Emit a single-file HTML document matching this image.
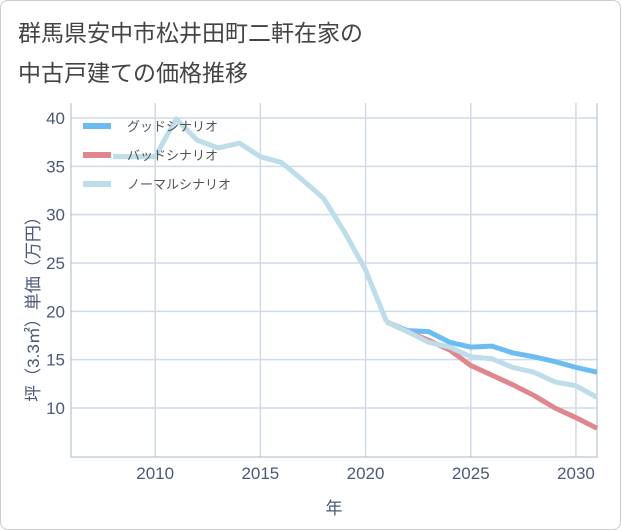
<!DOCTYPE html>
<html><head><meta charset="utf-8"><style>
body{margin:0;background:#fff;}
#wrap{position:relative;width:619px;height:528px;border:1px solid #ccc;border-radius:8px;overflow:hidden;font-family:"Liberation Sans","Noto Sans CJK JP",sans-serif;}
.title{position:absolute;left:17px;font-size:23px;color:#444;}
</style></head><body>
<div id="wrap">
<div class="title" style="top:13px">群馬県安中市松井田町二軒在家の</div>
<div class="title" style="top:53px">中古戸建ての価格推移</div>
<svg id="chart" width="621" height="530" style="position:absolute;left:-1px;top:-1px"></svg>
</div>
<script>
const years=[2008,2009,2010,2011,2012,2013,2014,2015,2016,2017,2018,2019,2020,2021,2022,2023,2024,2025,2026,2027,2028,2029,2030,2031];
const normalHist=[36,36,36,39.9,37.7,36.9,37.4,36,35.4,33.6,31.7,28.2,24.3,18.9];
const futureYears=[2021,2022,2023,2024,2025,2026,2027,2028,2029,2030,2031];
const goodVals=[18.9,18.0,17.9,16.8,16.3,16.4,15.7,15.3,14.8,14.2,13.7];
const badVals=[18.9,17.9,17.0,16.0,14.4,13.4,12.4,11.3,10.0,9.0,7.9];
const normalVals=[18.9,17.9,16.8,16.3,15.3,15.1,14.2,13.7,12.7,12.3,11.1];
const xTicks=[2010,2015,2020,2025,2030];
const yTicks=[10,15,20,25,30,35,40];
const legendLabels=["グッドシナリオ","バッドシナリオ","ノーマルシナリオ"];
const colors=["#6bbcf2","#e0868e","#bcdde9"];
const NS="http://www.w3.org/2000/svg";
const svg=document.getElementById('chart');
const L=71,R=597,T=103,B=457;
const x=v=>L+(v-2006)*(R-L)/25;
const y=v=>408-(v-10)*290/30;
function mk(t,a,p){const e=document.createElementNS(NS,t);for(const k in a)e.setAttribute(k,a[k]);(p||svg).appendChild(e);return e;}
for(const t of xTicks){const l=mk('line',{x1:x(t),x2:x(t),y1:T,y2:B,stroke:'#cfdbe6','stroke-width':1.5});


const tx=mk('text',{x:x(t),y:479,'text-anchor':'middle','font-size':17,fill:'#4a5a78'});tx.textContent=t;

}
for(const t of yTicks){const l=mk('line',{x1:L,x2:R,y1:y(t),y2:y(t),stroke:'#cfdbe6','stroke-width':1.5});


const tx=mk('text',{x:65,y:y(t)+6,'text-anchor':'end','font-size':17,fill:'#4a5a78'});tx.textContent=t;

}
const ax=mk('path',{d:`M${L} ${T}V${B}H${R}V${T}`,fill:'none',stroke:'#aab8c8','stroke-width':1});


function line(xs,vs,c,name){const p=mk('polyline',{points:xs.map((v,i)=>x(v)+','+y(vs[i])).join(' '),fill:'none',stroke:c,'stroke-width':5,'stroke-linejoin':'round'});

}
line(futureYears,goodVals,colors[0],'good-scenario-line');
line(futureYears,badVals,colors[1],'bad-scenario-line');
line(years.slice(0,normalHist.length),normalHist,colors[2],'normal-history-line');
line(futureYears,normalVals,colors[2],'normal-scenario-line');
legendLabels.forEach((s,i)=>{const yy=126+i*29;
const r=mk('line',{x1:83,x2:111,y1:yy,y2:yy,stroke:colors[i],'stroke-width':6});


const t=mk('text',{x:127,y:yy+5,'font-size':13,fill:'#555'});t.textContent=s;

});
const xt=mk('text',{x:334,y:514,'text-anchor':'middle','font-size':17,fill:'#4a5a78'});xt.textContent='年';


const yt=mk('text',{x:0,y:0,'text-anchor':'middle','font-size':17,fill:'#4a5a78',transform:'translate(39,305) rotate(-90)'});yt.textContent='坪（3.3㎡）単価（万円）';


</script>
</body></html>
